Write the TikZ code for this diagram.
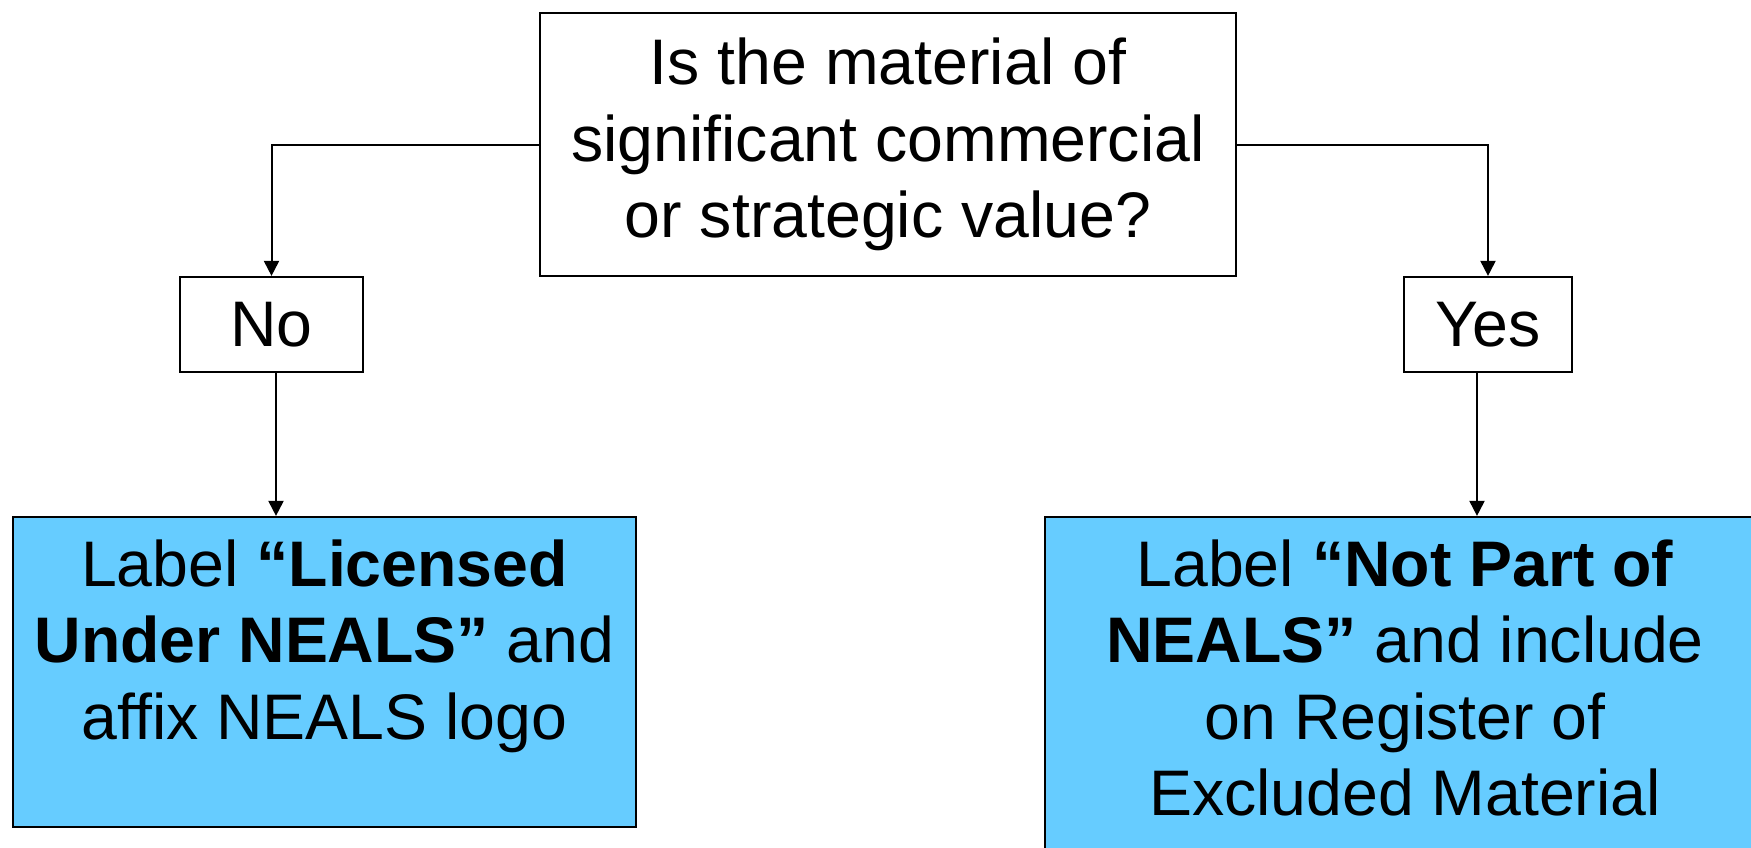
\documentclass[tikz,border=0pt]{standalone}
\usepackage{fontspec}
\setmainfont{Liberation Sans}
\usetikzlibrary{arrows.meta}
\definecolor{boxblue}{HTML}{66CCFF}
\begin{document}
\begin{tikzpicture}[x=0.5pt,y=-0.5pt,
  box/.style={draw=black, line width=1.1pt, rectangle, inner sep=0pt, align=center, font=\fontsize{32.2}{38.25}\selectfont},
  bluebox/.style={box, fill=boxblue},
  txt/.style={inner sep=0pt, align=center, anchor=north, font=\fontsize{32.2}{38.25}\selectfont},
  arr/.style={line width=1pt, -{Triangle[width=7.5pt,length=7.5pt]}}]
\useasboundingbox (0,0) rectangle (1751,847);
\clip (0,0) rectangle (1751,847);
\node[box, minimum width=348pt, minimum height=131.5pt] (q) at (888,144.5) {Is the material of\\significant commercial\\or strategic value?};
\node[box, minimum width=91.5pt, minimum height=47.5pt] (no) at (271.5,324.5) {No};
\node[box, minimum width=84pt, minimum height=47.5pt] (yes) at (1488,324.5) {Yes};
\node[bluebox, minimum width=311.5pt, minimum height=155pt] (lic) at (324.5,672) {};
\node[bluebox, minimum width=360pt, minimum height=181.5pt] (excl) at (1405,698.5) {};
\node[txt] (lictxt) at (324.5,539) {Label \textbf{“Licensed}\\\textbf{Under NEALS”} and\\affix NEALS logo};
\node[txt] (excltxt) at (1405,539) {Label \textbf{“Not Part of}\\\textbf{NEALS”} and include\\on Register of\\Excluded Material};
\draw[arr] (q.west) -| (no.north);
\draw[arr] (q.east) -| (yes.north);
\draw[arr] ([xshift=2.25pt]no.south) -- ([xshift=2.25pt]no.south |- lic.north);
\draw[arr] ([xshift=-5.5pt]yes.south) -- ([xshift=-5.5pt]yes.south |- excl.north);
\end{tikzpicture}
\end{document}
